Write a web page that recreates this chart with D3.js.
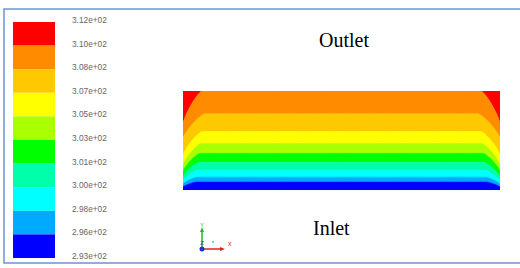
<!DOCTYPE html>
<html>
<head>
<meta charset="utf-8">
<script src="https://cdn.jsdelivr.net/npm/d3@7"></script>
<style>
  body { margin: 0; background: #fff; }
  svg { display: block; }
</style>
</head>
<body>
<div class="container"></div>
<script>
const width = 520;
const height = 268;

// legend: tick labels (top to bottom) and colour bands
const tickLabels = ["3.12e+02", "3.10e+02", "3.08e+02", "3.07e+02", "3.05e+02", "3.03e+02",
                    "3.01e+02", "3.00e+02", "2.98e+02", "2.96e+02", "2.93e+02"];
const bandColors = ["#ff0000", "#ff8c00", "#ffc800", "#ffff00", "#aaff00",
                    "#00ff00", "#00ffaa", "#00ffff", "#00aaff", "#0000ff"];

// contour boundaries between band k and k+1 (domain: x 0..3.2 along, y 0 inlet .. 1 outlet)
const coreLevel = [1.00, 0.77, 0.59, 0.47, 0.37, 0.28, 0.20, 0.13, 0.08]; // level away from the walls
const wallLevel = [0.67, 0.52, 0.35, 0.25, 0.19, 0.13, 0.09, 0.06, 0.03]; // level where it meets the side walls
const bendWidth = [0.19, 0.22, 0.19, 0.18, 0.17, 0.16, 0.15, 0.14, 0.13]; // how far from the wall it bends
const ductLength = 3.2;

const svg = d3.select(".container")
    .append("svg")
    .attr("width", width)
    .attr("height", height)
    .attr("viewBox", [0, 0, width, height]);

// frame
svg.append("rect")
    .attr("x", 4)
    .attr("y", 9)
    .attr("width", 540)
    .attr("height", 254)
    .attr("fill", "none")
    .attr("stroke", "#6e93cd")
    .attr("stroke-width", 1.5);

// colour legend
const ly = d3.scaleLinear().domain([0, bandColors.length]).range([22, 258]);

svg.selectAll(".band")
    .data(bandColors)
    .join("rect")
    .attr("class", "band")
    .attr("x", 13)
    .attr("width", 42)
    .attr("y", (d, i) => ly(i))
    .attr("height", (d, i) => ly(i + 1) - ly(i))
    .attr("fill", d => d);

svg.selectAll(".tick")
    .data(tickLabels)
    .join("text")
    .attr("class", "tick")
    .attr("x", 72)
    .attr("y", (d, i) => ly(i) + 1)
    .attr("font-family", "Liberation Sans, Arial, sans-serif")
    .attr("font-size", 8.3)
    .attr("fill", "#666")
    .text(d => d);

// contour plot
const x = d3.scaleLinear().domain([0, ductLength]).range([183, 500]);
const y = d3.scaleLinear().domain([0, 1]).range([190, 91]);

// sample a little past both walls, the clip trims it back
const xs = d3.range(-8, 649).map(i => i * ductLength / 640);

function level(k, xv) {
  const s = Math.max(0, Math.min(xv, ductLength - xv));
  const w = bendWidth[k];
  if (s >= w) return coreLevel[k];
  const t = (w - s) / w;
  const p = 1.25;
  return wallLevel[k] + (coreLevel[k] - wallLevel[k]) * Math.pow(1 - Math.pow(t, p), 1 / p);
}

svg.append("clipPath")
    .attr("id", "duct")
    .append("rect")
    .attr("x", x(0))
    .attr("y", y(1))
    .attr("width", x(ductLength) - x(0))
    .attr("height", y(0) - y(1));

// band k lies between boundary k-1 (above) and boundary k (below)
const bandArea = d3.area()
    .x(d => x(d.x))
    .y0(d => y(d.lo))
    .y1(d => y(d.hi));

const plot = svg.append("g").attr("clip-path", "url(#duct)");

plot.selectAll(".level")
    .data(bandColors)
    .join("path")
    .attr("class", "level")
    .attr("fill", d => d)
    .attr("stroke", d => d)
    .attr("stroke-width", 0.6)
    .attr("d", (d, k) => bandArea(xs.map(xv => ({
      x: xv,
      hi: k === 0 ? 1.05 : level(k - 1, xv),
      lo: k === bandColors.length - 1 ? -0.05 : level(k, xv)
    }))));

// labels
svg.append("text")
    .attr("x", 319)
    .attr("y", 47)
    .attr("font-family", "Liberation Serif, Times New Roman, serif")
    .attr("font-size", 20)
    .text("Outlet");

svg.append("text")
    .attr("x", 313)
    .attr("y", 235)
    .attr("font-family", "Liberation Serif, Times New Roman, serif")
    .attr("font-size", 20)
    .text("Inlet");

// axis triad
const triad = svg.append("g").attr("transform", "translate(202,249)");
triad.append("line").attr("x1", 0).attr("y1", 0).attr("x2", 0).attr("y2", -19)
    .attr("stroke", "#22bb22").attr("stroke-width", 1.5);
triad.append("path").attr("d", "M-2,-17 L0,-22 L2,-17 Z").attr("fill", "#22bb22");
triad.append("text").attr("x", 0).attr("y", -22).attr("text-anchor", "middle")
    .attr("font-family", "Liberation Sans, Arial, sans-serif").attr("font-size", 6)
    .attr("fill", "#22bb22").text("Y");
triad.append("line").attr("x1", 0).attr("y1", 0).attr("x2", 20).attr("y2", 0)
    .attr("stroke", "#dd2222").attr("stroke-width", 1.5);
triad.append("path").attr("d", "M18,-2 L23,0 L18,2 Z").attr("fill", "#dd2222");
triad.append("text").attr("x", 26).attr("y", -3)
    .attr("font-family", "Liberation Sans, Arial, sans-serif").attr("font-size", 7)
    .attr("fill", "#dd2222").text("x");
triad.append("text").attr("x", 0).attr("y", -4).attr("text-anchor", "middle")
    .attr("font-family", "Liberation Sans, Arial, sans-serif").attr("font-size", 6)
    .attr("fill", "#2233cc").text("Z");
triad.append("circle").attr("cx", 0).attr("cy", 0).attr("r", 2.5).attr("fill", "#2233cc");
triad.append("circle").attr("cx", 11).attr("cy", -7).attr("r", 1).attr("fill", "#33cccc");
</script>
</body>
</html>
